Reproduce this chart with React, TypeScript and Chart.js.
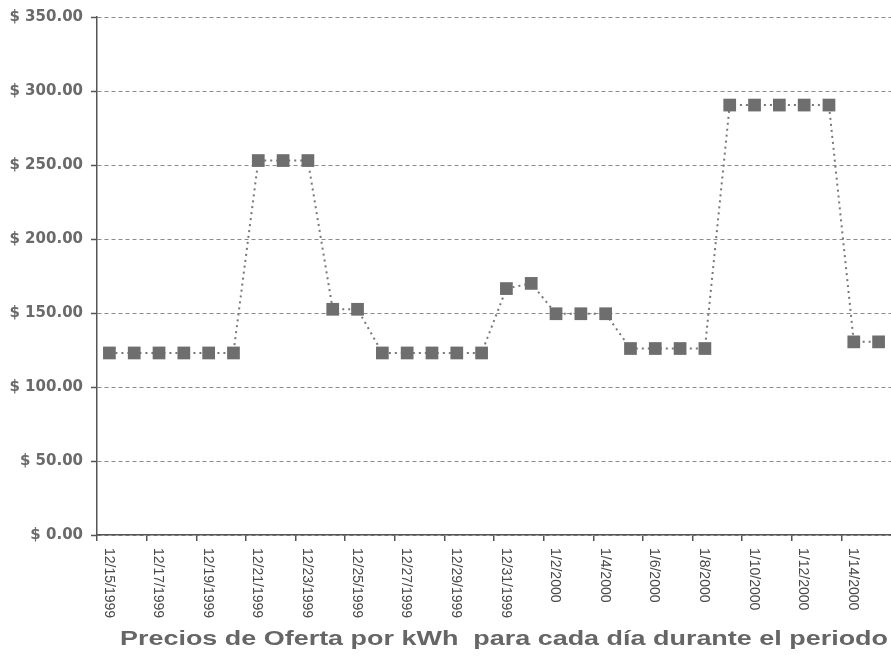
import { useEffect, useRef } from 'react';
import { Chart, registerables } from 'chart.js';

Chart.register(...registerables);

const dates = [
  '12/15/1999', '12/16/1999', '12/17/1999', '12/18/1999', '12/19/1999', '12/20/1999',
  '12/21/1999', '12/22/1999', '12/23/1999', '12/24/1999', '12/25/1999', '12/26/1999',
  '12/27/1999', '12/28/1999', '12/29/1999', '12/30/1999', '12/31/1999',
  '1/1/2000', '1/2/2000', '1/3/2000', '1/4/2000', '1/5/2000', '1/6/2000', '1/7/2000',
  '1/8/2000', '1/9/2000', '1/10/2000', '1/11/2000', '1/12/2000', '1/13/2000',
  '1/14/2000', '1/15/2000',
];

const prices = [
  123, 123, 123, 123, 123, 123,
  253, 253, 253,
  152.5, 152.5,
  123, 123, 123, 123, 123,
  166.5, 170,
  149.5, 149.5, 149.5,
  126, 126, 126, 126,
  290.5, 290.5, 290.5, 290.5, 290.5,
  130.5, 130.5,
];

const yMin = 0;
const yMax = 350;
const yStep = 50;

const titleText = 'Precios de Oferta por kWh  para cada día durante el periodo';

const textPlugin = {
  id: 'customText',
  afterDraw(chart: any) {
    const { ctx } = chart;
    const xs = chart.scales.x;
    ctx.save();
    ctx.fillStyle = '#484848';
    ctx.font = '14px "Liberation Sans", Arial, sans-serif';
    ctx.textAlign = 'left';
    ctx.textBaseline = 'middle';
    dates.forEach((d, i) => {
      if (i % 2) return;
      const x = xs.getPixelForValue(i) - 1;
      ctx.save();
      ctx.translate(x, xs.top + 13);
      ctx.rotate(Math.PI / 2);
      ctx.fillText(d, 0, 0);
      ctx.restore();
    });
    ctx.font = 'bold 20px "Liberation Sans", Arial, sans-serif';
    ctx.fillStyle = '#666';
    ctx.textAlign = 'left';
    ctx.textBaseline = 'alphabetic';
    const w = ctx.measureText(titleText).width;
    const targetW = 768;
    ctx.save();
    ctx.translate(120, 645);
    ctx.scale(targetW / w, 1);
    ctx.fillText(titleText, 0, 0);
    ctx.restore();
    ctx.restore();
  },
};

export default function App() {
  const ref = useRef<HTMLCanvasElement | null>(null);

  useEffect(() => {
    if (!ref.current) return;
    const chart = new Chart(ref.current, {
      type: 'line',
      data: {
        labels: dates,
        datasets: [
          {
            data: prices,
            borderColor: '#777',
            borderWidth: 2,
            borderDash: [2, 4],
            pointStyle: 'rect',
            pointRadius: 9,
            pointHoverRadius: 9,
            pointBackgroundColor: '#6e6e6e',
            pointBorderWidth: 0,
            tension: 0,
          },
        ],
      },
      options: {
        responsive: false,
        animation: false,
        layout: { padding: { top: 17, right: 3, bottom: 0, left: 0 } },
        plugins: {
          legend: { display: false },
          tooltip: { enabled: false },
          title: { display: false },
        },
        scales: {
          x: {
            type: 'category',
            offset: true,
            grid: {
              offset: true,
              drawOnChartArea: false,
              drawTicks: true,
              tickLength: 6,
              color: (c: any) => (c.index % 2 === 0 ? '#555' : 'rgba(0,0,0,0)'),
              lineWidth: 1.5,
            },
            border: { display: true, color: '#555', width: 1.5 },
            ticks: { display: false },
            afterFit: (scale: any) => {
              scale.height = 125;
            },
          },
          y: {
            min: yMin,
            max: yMax,
            ticks: {
              stepSize: yStep,
              padding: 8,
              color: '#6a6a6a',
              font: { family: '"DejaVu Sans", sans-serif', weight: 'bold', size: 15 },
              callback: (v: any) => '$ ' + Number(v).toFixed(2),
            },
            grid: {
              color: '#8a8a8a',
              lineWidth: 1,
              tickLength: 6,
              tickColor: '#555',
              tickWidth: 1.5,
            },
            border: { display: true, color: '#555', width: 1.5, dash: [4, 3] },
            afterFit: (scale: any) => {
              scale.width = 97;
            },
          },
        },
      },
      plugins: [textPlugin],
    });
    return () => chart.destroy();
  }, []);

  return (
    <div
      style={{
        position: 'fixed',
        left: 0,
        top: 0,
        width: '100vw',
        height: '100vh',
        overflow: 'hidden',
        background: '#fff',
      }}
    >
      <canvas ref={ref} width={900} height={660} style={{ display: 'block' }} />
    </div>
  );
}
